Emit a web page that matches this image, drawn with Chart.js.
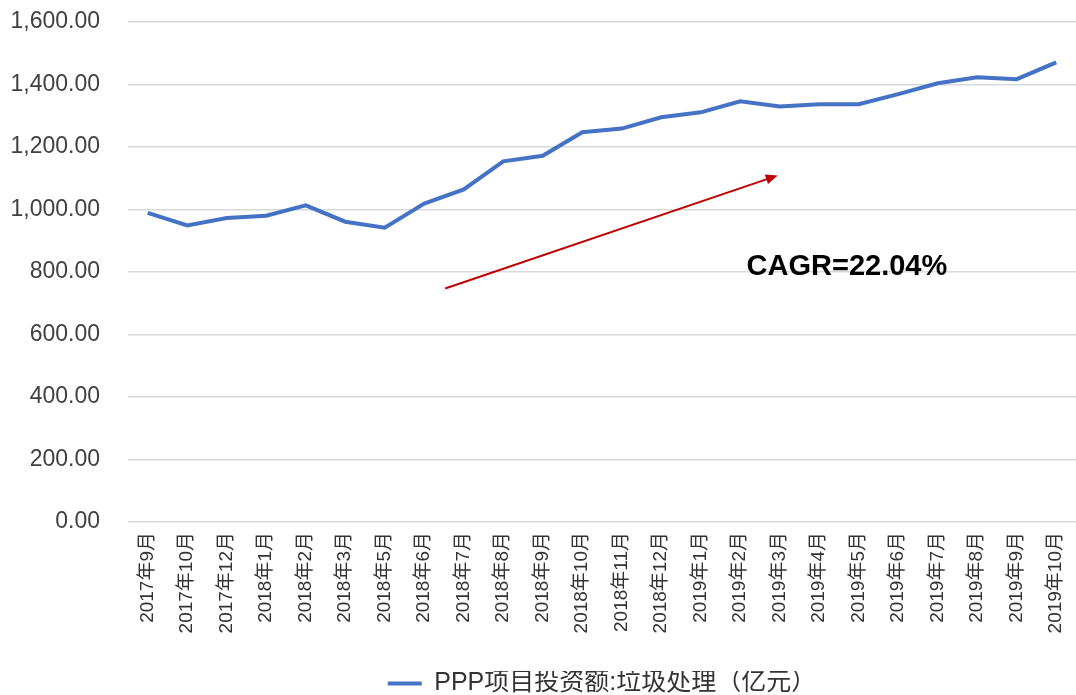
<!DOCTYPE html>
<html>
<head>
<meta charset="utf-8">
<script src="https://cdn.jsdelivr.net/npm/chart.js@4/dist/chart.umd.min.js"></script>
<style>
  html, body { margin: 0; padding: 0; background: #fff; }
  #wrap { width: 1076px; height: 695px; position: relative; }
</style>
</head>
<body>
<div id="wrap"><canvas id="line-chart"></canvas></div>
<script>
var months = [
  '2017年9月', '2017年10月', '2017年12月', '2018年1月', '2018年2月', '2018年3月',
  '2018年5月', '2018年6月', '2018年7月', '2018年8月', '2018年9月', '2018年10月',
  '2018年11月', '2018年12月', '2019年1月', '2019年2月', '2019年3月', '2019年4月',
  '2019年5月', '2019年6月', '2019年7月', '2019年8月', '2019年9月', '2019年10月'
];

var investment = [
  989, 949, 973, 980, 1013, 961, 942, 1019, 1064, 1154, 1172, 1247,
  1259, 1295, 1311, 1346, 1330, 1337, 1337, 1369, 1404, 1423, 1417, 1471
];

var yTicks = [0, 200, 400, 600, 800, 1000, 1200, 1400, 1600];

// trend arrow, in data units (category index, value)
var arrowFrom = [7.53, 747];
var arrowTo = [15.95, 1109];
var cagrText = 'CAGR=22.04%';
var cagrAt = [17.7, 817];

var cjk = '"Liberation Sans", Arial, "Noto Sans CJK SC", sans-serif';

var arrowPlugin = {
  id: 'trendArrow',
  afterDatasetsDraw: function(chart) {
    var c = chart.ctx, x = chart.scales.x, y = chart.scales.y;
    var x1 = x.getPixelForValue(arrowFrom[0]), y1 = y.getPixelForValue(arrowFrom[1]);
    var x2 = x.getPixelForValue(arrowTo[0]), y2 = y.getPixelForValue(arrowTo[1]);
    var ang = Math.atan2(y2 - y1, x2 - x1);
    c.save();
    c.strokeStyle = '#C00000';
    c.fillStyle = '#C00000';
    c.lineWidth = 2;
    c.beginPath();
    c.moveTo(x1, y1);
    c.lineTo(x2 - 9 * Math.cos(ang), y2 - 9 * Math.sin(ang));
    c.stroke();
    c.beginPath();
    c.moveTo(x2, y2);
    c.lineTo(x2 - 12 * Math.cos(ang) + 5 * Math.sin(ang), y2 - 12 * Math.sin(ang) - 5 * Math.cos(ang));
    c.lineTo(x2 - 12 * Math.cos(ang) - 5 * Math.sin(ang), y2 - 12 * Math.sin(ang) + 5 * Math.cos(ang));
    c.closePath();
    c.fill();

    c.fillStyle = '#000';
    c.font = 'bold 29px "Liberation Sans", Arial, sans-serif';
    c.textAlign = 'center';
    c.textBaseline = 'middle';
    c.fillText(cagrText, x.getPixelForValue(cagrAt[0]), y.getPixelForValue(cagrAt[1]));
    c.restore();
  }
};

var ctx = document.getElementById('line-chart');

new Chart(ctx, {
  type: 'line',
  data: {
    labels: months,
    datasets: [{
      label: 'PPP项目投资额:垃圾处理（亿元）',
      data: investment,
      borderColor: '#4472C4',
      backgroundColor: '#4472C4',
      borderWidth: 4,
      pointRadius: 0,
      tension: 0
    }]
  },
  options: {
    responsive: true,
    maintainAspectRatio: false,
    animation: false,
    layout: { padding: { top: 22, right: 0, left: 10, bottom: -11 } },
    scales: {
      x: {
        offset: true,
        grid: { display: false, drawTicks: false },
        border: { display: false },
        afterFit: function(axis) {
          axis.height = 149;
          axis.paddingLeft = 0;
          axis.paddingRight = 0;
        },
        ticks: {
          minRotation: 90,
          maxRotation: 90,
          autoSkip: false,
          padding: 10,
          color: '#333',
          font: { size: 19, family: cjk }
        }
      },
      y: {
        min: 0,
        max: 1600,
        afterBuildTicks: function(axis) {
          axis.ticks = yTicks.map(function(v) { return { value: v }; });
        },
        afterFit: function(axis) {
          axis.width = 118;
          axis.paddingTop = 0;
          axis.paddingBottom = 0;
        },
        grid: { color: '#d9d9d9', lineWidth: 1.5, drawTicks: false },
        border: { display: false },
        ticks: {
          padding: 28,
          color: '#404040',
          font: { size: 23, family: cjk },
          callback: function(v) {
            return Number(v).toLocaleString('en-US', { minimumFractionDigits: 2, maximumFractionDigits: 2 });
          }
        }
      }
    },
    plugins: {
      legend: {
        position: 'bottom',
        fullSize: false,
        labels: {
          usePointStyle: true,
          pointStyle: 'line',
          pointStyleWidth: 34,
          boxHeight: 4,
          color: '#333',
          padding: 0,
          font: { size: 25, family: cjk }
        }
      },
      tooltip: { enabled: false }
    }
  },
  plugins: [arrowPlugin]
});
</script>
</body>
</html>
